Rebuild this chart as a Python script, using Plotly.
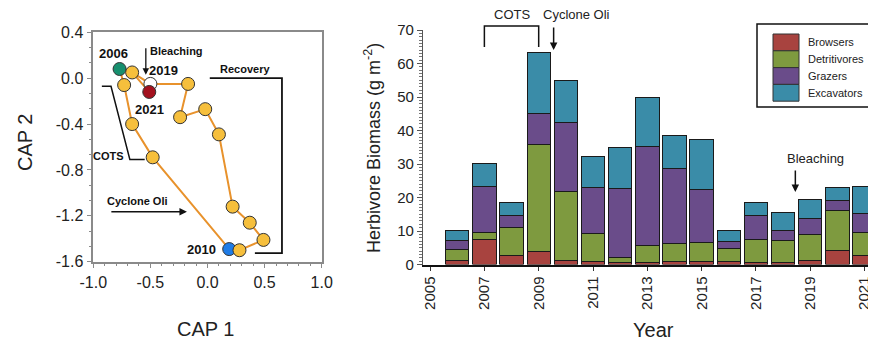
import plotly.graph_objects as go

# ---------------- Data ----------------
# Left panel: CAP trajectory
cap_years = [2006, 2007, 2008, 2009, 2010, 2011, 2012, 2013, 2014, 2015, 2016, 2017, 2018, 2019, 2020, 2021]
cap1 = [-0.77, -0.73, -0.66, -0.48, 0.19, 0.28, 0.49, 0.37, 0.22, 0.10, -0.02, -0.24, -0.17, -0.50, -0.66, -0.51]
cap2 = [0.08, -0.06, -0.40, -0.69, -1.49, -1.50, -1.41, -1.26, -1.12, -0.49, -0.27, -0.34, -0.05, -0.05, 0.05, -0.12]
cap_colors = ["#178F6E", "#F6BF3C", "#F6BF3C", "#F6BF3C", "#1F7CE6", "#F6BF3C", "#F6BF3C", "#F6BF3C",
              "#F6BF3C", "#F6BF3C", "#F6BF3C", "#F6BF3C", "#F6BF3C", "#FFFFFF", "#F6BF3C", "#A3111E"]
cap_x_ticks = [-1.0, -0.5, 0.0, 0.5, 1.0]
cap_x_labels = ["-1.0", "-0.5", "0.0", "0.5", "1.0"]
cap_y_ticks = [-1.6, -1.2, -0.8, -0.4, 0.0, 0.4]
cap_y_labels = ["-1.6", "-1.2", "-0.8", "-0.4", "0.0", "0.4"]

# Right panel: herbivore biomass
years = [2006, 2007, 2008, 2009, 2010, 2011, 2012, 2013, 2014, 2015, 2016, 2017, 2018, 2019, 2020, 2021]
browsers = [1.3, 7.4, 2.8, 3.9, 1.3, 1.0, 0.5, 0.5, 1.0, 0.9, 0.8, 0.5, 0.5, 1.3, 4.2, 2.7]
detritivores = [3.2, 2.2, 8.2, 32.0, 20.6, 8.3, 1.7, 5.2, 5.4, 5.6, 4.1, 6.9, 6.7, 7.7, 12.0, 6.9]
grazers = [2.7, 13.7, 3.6, 9.3, 20.6, 13.8, 20.6, 29.6, 22.3, 16.0, 1.9, 7.2, 3.1, 4.8, 3.0, 5.7]
excavators = [3.0, 6.8, 3.8, 18.2, 12.3, 9.0, 12.2, 14.5, 9.7, 14.8, 3.5, 4.0, 5.1, 5.5, 3.8, 8.0]
series_names = ["Browsers", "Detritivores", "Grazers", "Excavators"]
series_values = [browsers, detritivores, grazers, excavators]
series_colors = ["#A8433F", "#7E9A3F", "#6A4C8A", "#3A8CA8"]
year_ticks = [2005, 2007, 2009, 2011, 2013, 2015, 2017, 2019, 2021]

# page body has an 8px margin, so the figure is made 8px smaller and offset
OFF = 8
W, H = 876 - OFF, 341 - OFF
FONT = "Arial, Liberation Sans, sans-serif"
TXT = "#222222"


def px(x):
    return (x - OFF) / W


def py(y):
    return 1 - (y - OFF) / H


fig = go.Figure()

# ---- left: trajectory ----
fig.add_trace(go.Scatter(
    x=cap1, y=cap2, mode="lines+markers", xaxis="x", yaxis="y",
    line=dict(color="#E8922C", width=2),
    marker=dict(size=13, color=cap_colors, line=dict(color="#333333", width=1)),
    showlegend=False, hoverinfo="skip"))

# ---- right: stacked bars ----
for name, vals, col in zip(series_names, series_values, series_colors):
    fig.add_trace(go.Bar(
        x=years, y=vals, name=name, xaxis="x2", yaxis="y2",
        marker=dict(color=col, line=dict(color="#1a1a1a", width=1)),
        width=0.86, showlegend=False))

fig.update_layout(
    width=W, height=H, margin=dict(l=0, r=0, t=0, b=0, autoexpand=False),
    paper_bgcolor="white", plot_bgcolor="white",
    barmode="stack", font=dict(family=FONT, color=TXT),
    xaxis=dict(domain=[px(93.3), px(321.7)], range=[-1, 1], automargin=False,
               tickvals=cap_x_ticks, ticktext=cap_x_labels,
               showline=True, mirror=True, linecolor="#8a8a8a", linewidth=1.5,
               ticks="outside", ticklen=5, tickcolor="#8a8a8a",
               minor=dict(dtick=0.1, ticks="outside", ticklen=3, tickcolor="#8a8a8a"),
               showgrid=False, zeroline=False, tickfont=dict(size=16, color=TXT)),
    yaxis=dict(domain=[py(261.7), py(32.3)], range=[-1.6, 0.4], automargin=False,
               tickvals=cap_y_ticks, ticktext=cap_y_labels, anchor="x",
               showline=True, mirror=True, linecolor="#8a8a8a", linewidth=1.5,
               ticks="outside", ticklen=5, tickcolor="#8a8a8a",
               minor=dict(dtick=0.4 / 3, tick0=0, ticks="outside", ticklen=3, tickcolor="#8a8a8a"),
               showgrid=False, zeroline=False, tickfont=dict(size=16, color=TXT)),
    xaxis2=dict(domain=[px(423), 1.0], range=[2004.74, 2021.42], anchor="y2", automargin=False,
                tickvals=year_ticks, tickangle=-90,
                showline=True, linecolor="#111111", linewidth=2,
                ticks="outside", ticklen=4, tickcolor="#333333",
                showgrid=False, zeroline=False, tickfont=dict(size=15, color=TXT)),
    yaxis2=dict(domain=[py(264.5), py(30)], range=[0, 70], anchor="x2", automargin=False,
                dtick=10, showline=True, linecolor="#555555", linewidth=1.2,
                ticks="outside", ticklen=5, tickcolor="#555555",
                minor=dict(dtick=1, ticks="outside", ticklen=2.5, tickcolor="#777777"),
                showgrid=False, zeroline=False, tickfont=dict(size=15, color=TXT)),
)

ann = []
shapes = []


def label(text, x, y, xref, yref, font, xanchor="center", angle=0):
    ann.append(dict(text=text, x=x, y=y, xref=xref, yref=yref, xanchor=xanchor, yanchor="middle",
                    textangle=angle, showarrow=False, font=font))


# axis titles
label("CAP 2", px(25), py(143), "paper", "paper", dict(size=20, color=TXT), angle=-90)
label("CAP 1", px(205), py(329), "paper", "paper", dict(size=20, color=TXT))
label("Herbivore Biomass (g m<sup>-2</sup>)", px(372), py(148), "paper", "paper", dict(size=18, color=TXT), angle=-90)
label("Year", px(653), py(330), "paper", "paper", dict(size=20, color=TXT))

# left panel labels
bold13 = dict(size=13, color="#111111")
bold11 = dict(size=11, color="#111111")
for t, x, y in [("2006", -0.82, 0.215), ("2019", -0.385, 0.066), ("2021", -0.505, -0.277), ("2010", -0.05, -1.492)]:
    label("<b>%s</b>" % t, x, y, "x", "y", bold13)
label("<b>Bleaching</b>", -0.52, 0.24, "x", "y", bold11, xanchor="left")
label("<b>Recovery</b>", 0.33, 0.08, "x", "y", bold11)
label("<b>COTS</b>", -0.87, -0.68, "x", "y", bold11)
label("<b>Cyclone Oli</b>", -0.615, -1.07, "x", "y", bold11)
# arrows left
ann.append(dict(text="", x=-0.54, y=0.03, ax=-0.54, ay=0.275, xref="x", yref="y", axref="x", ayref="y",
                showarrow=True, arrowhead=2, arrowsize=1, arrowwidth=1.3, arrowcolor="#111111"))
ann.append(dict(text="", x=-0.18, y=-1.164, ax=-0.855, ay=-1.164, xref="x", yref="y", axref="x", ayref="y",
                showarrow=True, arrowhead=2, arrowsize=1, arrowwidth=1.5, arrowcolor="#111111"))
# brackets left
shapes.append(dict(type="path", xref="x", yref="y",
                   path="M0.02,0.0 L0.652,0.0 L0.652,-1.525 L0.415,-1.525",
                   line=dict(color="#111111", width=1.8)))
shapes.append(dict(type="path", xref="x", yref="y",
                   path="M-0.925,-0.07 L-0.845,-0.07 L-0.68,-0.708 L-0.55,-0.708",
                   line=dict(color="#111111", width=1.5)))

# right panel annotations
reg13 = dict(size=13, color=TXT)
label("COTS", 2008.0, py(15), "x2", "paper", reg13)
label("Cyclone Oli", 2010.4, py(15), "x2", "paper", reg13)
label("Bleaching", 2019.2, py(158), "x2", "paper", reg13)
shapes.append(dict(type="path", xref="x2", yref="paper",
                   path="M2007,%f L2007,%f L2009,%f L2009,%f" % (py(47), py(26), py(26), py(47)),
                   line=dict(color="#111111", width=1.5)))
ann.append(dict(text="", x=2009.55, y=py(50), ax=0, ay=-24, xref="x2", yref="paper",
                axref="pixel", ayref="pixel", showarrow=True, arrowhead=2, arrowsize=1, arrowwidth=1.5,
                arrowcolor="#111111"))
ann.append(dict(text="", x=2018.45, y=py(192), ax=0, ay=-23, xref="x2", yref="paper",
                axref="pixel", ayref="pixel", showarrow=True, arrowhead=2, arrowsize=1, arrowwidth=1.5,
                arrowcolor="#111111"))

# legend box (drawn from series lists)
shapes.append(dict(type="rect", xref="paper", yref="paper", x0=px(757), x1=px(890), y0=py(107), y1=py(24),
                   line=dict(color="#111111", width=1.5), fillcolor="rgba(0,0,0,0)"))
for i, (name, col) in enumerate(zip(series_names, series_colors)):
    top = 34 + i * 16.8
    shapes.append(dict(type="rect", xref="paper", yref="paper", x0=px(773), x1=px(799),
                       y0=py(top + 16.8), y1=py(top), fillcolor=col,
                       line=dict(color="#333333", width=1)))
    label(name, px(806), py(top + 8.4), "paper", "paper", dict(size=11, color=TXT), xanchor="left")

fig.update_layout(annotations=ann, shapes=shapes)
fig.write_html("out.html")
